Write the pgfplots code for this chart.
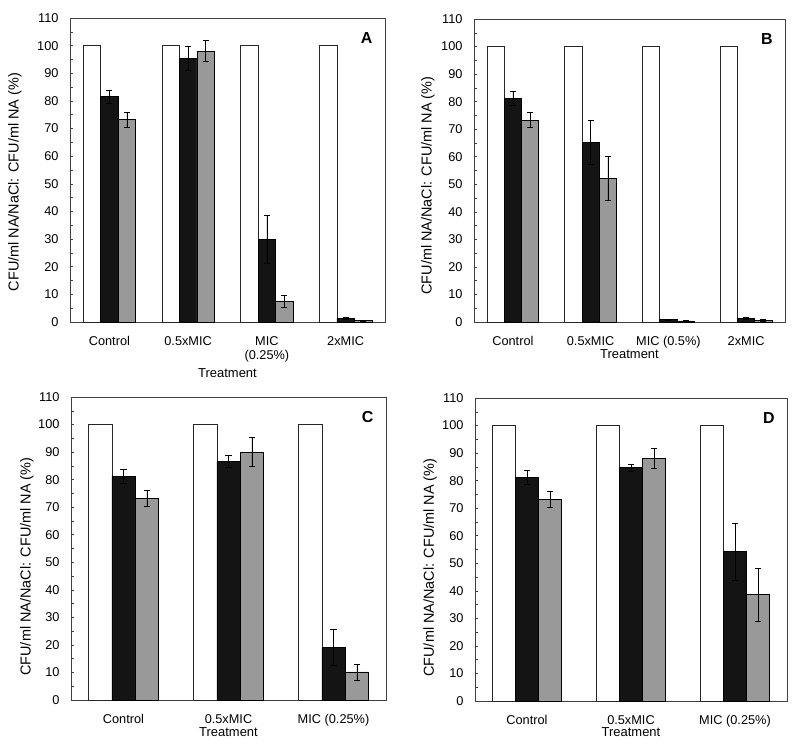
\documentclass[border=0pt]{standalone}
\usepackage{fontspec}
\setmainfont{Liberation Sans}
\usepackage{pgfplots}
\pgfplotsset{compat=1.18}

\definecolor{barblack}{gray}{0.08}
\definecolor{bargray}{gray}{0.6}

% bars are placed at their own x (group -0.222 / 0 / +0.222), so error bars sit on the right bar
\pgfplotsset{
  panel/.style={
    scale only axis,
    ymin=0, ymax=110,
    ytick={0,10,...,110},
    minor y tick num=1,
    ytick pos=left,
    tick align=inside,
    major tick length=3bp,
    minor tick length=3bp,
    major x tick style={draw=none},
    axis line style={line width=0.6bp, black!75},
    every tick/.append style={black!75, line width=0.5bp},
    tick label style={font=\fontsize{12.8}{14}\selectfont},
    yticklabel style={xshift=-8bp},
    xticklabel style={align=center, anchor=north, yshift=-11bp},
    label style={font=\fontsize{14.5}{16}\selectfont},
    ylabel={CFU/ml NA/NaCl: CFU/ml NA (\%)},
    xlabel={Treatment},
    xlabel style={font=\fontsize{13}{15}\selectfont},
    /pgf/number format/assume math mode=true,
    clip=false,
  },
  bar/.style={ybar, bar width=0.222, bar shift=0, line width=0.6bp},
  wbar/.style={bar, fill=white, draw=black!85},
  ebar/.style={bar, draw=black,
    error bars/y dir=both, error bars/y explicit,
    error bars/error bar style={black, line width=0.6bp},
    error bars/error mark options={rotate=90, black, mark size=3bp, line width=0.6bp}},
  kbar/.style={ebar, fill=barblack},
  gbar/.style={ebar, fill=bargray},
}
\newcommand{\panellabel}[1]{\node[font=\bfseries\fontsize{16}{18}\selectfont] at (axis description cs:0.942,0.935) {#1};}

\begin{document}
\begin{tikzpicture}
\path[use as bounding box] (0,0) rectangle (800bp,746bp);

% A
\begin{axis}[panel, at={(70bp,424bp)}, anchor=south west, width=315bp, height=304bp,
  xmin=-0.5, xmax=3.5, xtick={0,1,2,3},
  xticklabels={Control, 0.5xMIC, MIC\\(0.25\%), 2xMIC},
  ylabel style={at={(axis description cs:-0.175,0.46)}, anchor=center},
  xlabel style={at={(axis description cs:0.5,-0.168)}, anchor=center}]
\addplot[wbar] coordinates {(-0.222,100) (0.778,100) (1.778,100) (2.778,100)};
\addplot[kbar] coordinates {(0,81.5) +- (0,2.5) (1,95.5) +- (0,4.3) (2,29.8) +- (0,8.7) (3,1.3) +- (0,0.5)};
\addplot[gbar] coordinates {(0.222,73.3) +- (0,2.7) (1.222,98.0) +- (0,3.8) (2.222,7.5) +- (0,2.2) (3.222,0.5) +- (0,0.2)};
\panellabel{A}
\end{axis}

% B
\begin{axis}[panel, at={(474bp,424bp)}, anchor=south west, width=311bp, height=303bp,
  xmin=-0.5, xmax=3.5, xtick={0,1,2,3},
  xticklabels={Control, 0.5xMIC, MIC (0.5\%), 2xMIC},
  ylabel style={at={(axis description cs:-0.148,0.45)}, anchor=center},
  xlabel style={at={(axis description cs:0.5,-0.106)}, anchor=center}]
\addplot[wbar] coordinates {(-0.222,100) (0.778,100) (1.778,100) (2.778,100)};
\addplot[kbar] coordinates {(0,81.3) +- (0,2.5) (1,65.2) +- (0,8.1) (2,0.8) +- (0,0.2) (3,1.3) +- (0,0.4)};
\addplot[gbar] coordinates {(0.222,73.3) +- (0,2.8) (1.222,52.1) +- (0,8.1) (2.222,0.4) +- (0,0.1) (3.222,0.7) +- (0,0.3)};
\panellabel{B}
\end{axis}

% C
\begin{axis}[panel, at={(71bp,46bp)}, anchor=south west, width=315bp, height=303bp,
  xmin=-0.5, xmax=2.5, xtick={0,1,2},
  xticklabels={Control, 0.5xMIC, MIC (0.25\%)},
  ylabel style={at={(axis description cs:-0.140,0.44)}, anchor=center},
  xlabel style={at={(axis description cs:0.5,-0.106)}, anchor=center}]
\addplot[wbar] coordinates {(-0.222,100) (0.778,100) (1.778,100)};
\addplot[kbar] coordinates {(0,81.3) +- (0,2.5) (1,86.7) +- (0,2.3) (2,19.0) +- (0,6.5)};
\addplot[gbar] coordinates {(0.222,73.3) +- (0,2.8) (1.222,90.0) +- (0,5.3) (2.222,10.2) +- (0,2.9)};
\panellabel{C}
\end{axis}

% D
\begin{axis}[panel, at={(475bp,45bp)}, anchor=south west, width=312bp, height=303bp,
  xmin=-0.5, xmax=2.5, xtick={0,1,2},
  xticklabels={Control, 0.5xMIC, MIC (0.25\%)},
  ylabel style={at={(axis description cs:-0.144,0.44)}, anchor=center},
  xlabel style={at={(axis description cs:0.5,-0.102)}, anchor=center}]
\addplot[wbar] coordinates {(-0.222,100) (0.778,100) (1.778,100)};
\addplot[kbar] coordinates {(0,81.3) +- (0,2.5) (1,84.7) +- (0,1.2) (2,54.2) +- (0,10.3)};
\addplot[gbar] coordinates {(0.222,73.3) +- (0,2.8) (1.222,88.0) +- (0,3.6) (2.222,38.6) +- (0,9.7)};
\panellabel{D}
\end{axis}
\end{tikzpicture}
\end{document}
